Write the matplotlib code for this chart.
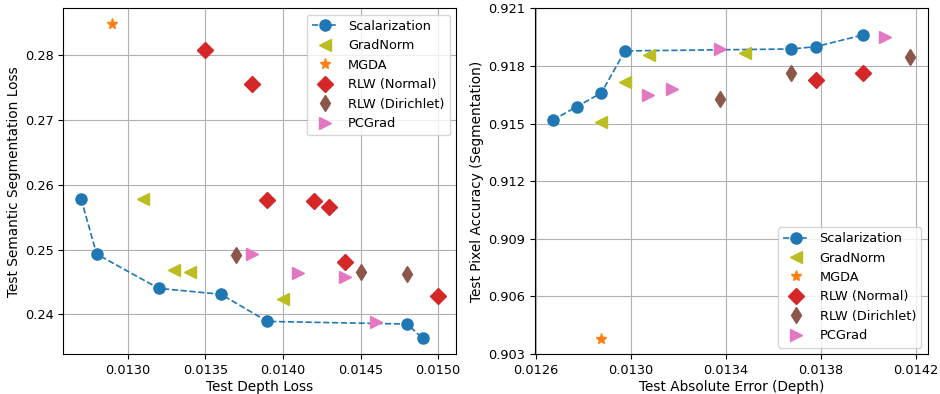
import numpy as np
import matplotlib
matplotlib.use("Agg")
import matplotlib.pyplot as plt
from matplotlib.ticker import FormatStrFormatter

plt.rcParams['font.size'] = 9.3
plt.rcParams['axes.labelsize'] = 9.8

# left panel: depth loss vs semantic segmentation loss
scal_depth = [0.0127, 0.0128, 0.0132, 0.0136, 0.0139, 0.0148, 0.0149]
scal_seg = [0.2578, 0.2493, 0.2440, 0.2431, 0.2389, 0.2385, 0.2363]
gn_depth = [0.0131, 0.0133, 0.0134, 0.0140]
gn_seg = [0.2578, 0.2469, 0.2465, 0.2423]
mgda_depth = [0.0129]
mgda_seg = [0.2848]
rlwn_depth = [0.0135, 0.0138, 0.0139, 0.0142, 0.0143, 0.0144, 0.0150]
rlwn_seg = [0.2808, 0.2756, 0.2577, 0.2575, 0.2565, 0.2480, 0.2428]
rlwd_depth = [0.0137, 0.0145, 0.0148]
rlwd_seg = [0.2491, 0.2465, 0.2462]
pc_depth = [0.0138, 0.0141, 0.0144, 0.0146]
pc_seg = [0.2493, 0.2463, 0.2457, 0.2388]

# right panel: absolute error vs pixel accuracy
scal_abs = [0.012672, 0.012773, 0.012876, 0.012976, 0.013675, 0.013778, 0.013978]
scal_acc = [0.91518, 0.91588, 0.91659, 0.91878, 0.91888, 0.91900, 0.91961]
gn_abs = [0.012875, 0.012976, 0.013077, 0.013480]
gn_acc = [0.91510, 0.91718, 0.91857, 0.91866]
mgda_abs = [0.012876]
mgda_acc = [0.90378]
rlwn_abs = [0.013778, 0.013978]
rlwn_acc = [0.91727, 0.91762]
rlwd_abs = [0.013375, 0.013675, 0.014175]
rlwd_acc = [0.91628, 0.91762, 0.91848]
pc_abs = [0.013074, 0.013175, 0.013375, 0.014072]
pc_acc = [0.91649, 0.91680, 0.91888, 0.91952]

left_xticks = [0.0130, 0.0135, 0.0140, 0.0145, 0.0150]
left_yticks = [0.24, 0.25, 0.26, 0.27, 0.28]
right_xticks = [0.0126, 0.0130, 0.0134, 0.0138, 0.0142]
right_yticks = [0.903, 0.906, 0.909, 0.912, 0.915, 0.918, 0.921]


def draw(ax, series):
    (sx, sy), (gx, gy), (mx, my), (nx, ny), (dx, dy), (px, py) = series
    ax.plot(sx, sy, '--o', color='tab:blue', ms=8, lw=1.2, label='Scalarization')
    ax.plot(gx, gy, '<', color='tab:olive', ms=8, ls='none', label='GradNorm')
    ax.plot(mx, my, '*', color='tab:orange', ms=8, ls='none', label='MGDA')
    ax.plot(nx, ny, 'D', color='tab:red', ms=8, ls='none', label='RLW (Normal)')
    ax.plot(dx, dy, 'd', color='tab:brown', ms=8, ls='none', label='RLW (Dirichlet)')
    ax.plot(px, py, '>', color='tab:pink', ms=8, ls='none', label='PCGrad')
    ax.grid(True)


fig = plt.figure(figsize=(9.4, 3.94), dpi=100)
ax1 = fig.add_axes([0.0673, 0.1015, 0.4178, 0.8775])
ax2 = fig.add_axes([0.5691, 0.1015, 0.4178, 0.8775])

draw(ax1, [(scal_depth, scal_seg), (gn_depth, gn_seg), (mgda_depth, mgda_seg),
           (rlwn_depth, rlwn_seg), (rlwd_depth, rlwd_seg), (pc_depth, pc_seg)])
ax1.set_xticks(left_xticks)
ax1.set_yticks(left_yticks)
ax1.xaxis.set_major_formatter(FormatStrFormatter('%.4f'))
ax1.yaxis.set_major_formatter(FormatStrFormatter('%.2f'))
ax1.set_xlabel('Test Depth Loss', labelpad=2)
ax1.set_ylabel('Test Semantic Segmentation Loss', labelpad=3)
ax1.legend(loc='upper right')

draw(ax2, [(scal_abs, scal_acc), (gn_abs, gn_acc), (mgda_abs, mgda_acc),
           (rlwn_abs, rlwn_acc), (rlwd_abs, rlwd_acc), (pc_abs, pc_acc)])
ax2.set_xticks(right_xticks)
ax2.set_yticks(right_yticks)
ax2.set_ylim(right_yticks[0], right_yticks[-1])
ax2.xaxis.set_major_formatter(FormatStrFormatter('%.4f'))
ax2.yaxis.set_major_formatter(FormatStrFormatter('%.3f'))
ax2.set_xlabel('Test Absolute Error (Depth)', labelpad=2)
ax2.set_ylabel('Test Pixel Accuracy (Segmentation)', labelpad=3)
ax2.legend(loc='lower right')

plt.savefig("out.png", dpi=100)
